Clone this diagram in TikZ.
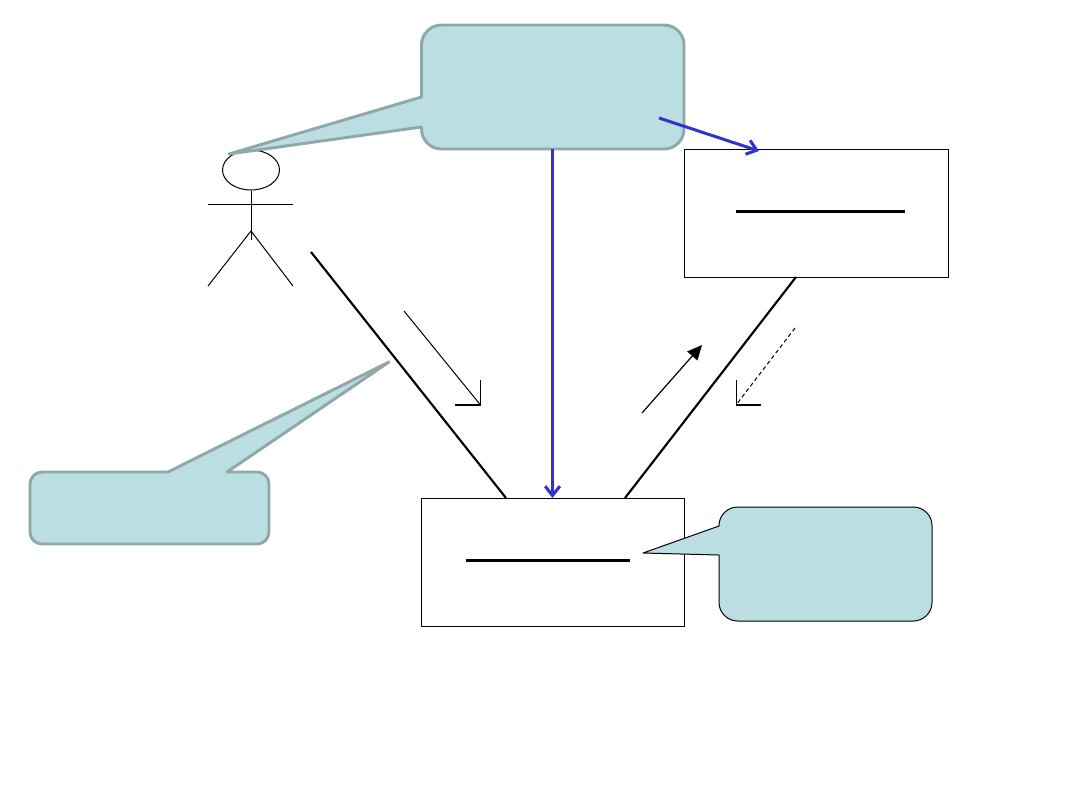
\documentclass[tikz,border=0pt]{standalone}
\usetikzlibrary{arrows.meta, shapes.geometric}
\definecolor{calloutfill}{HTML}{BBDEE2}
\definecolor{calloutline}{HTML}{8FA8AA}
\definecolor{flowblue}{HTML}{3333CC}
\tikzset{
    objbox/.style={draw, rectangle, line width=0.75pt, inner sep=0pt, outer sep=0pt, minimum width=198pt, minimum height=96pt},
    assoc/.style={line width=1.6pt},
    flow/.style={draw=flowblue, line width=2.25pt, -{Straight Barb[length=7pt, width=11pt, line width=2.3pt]}},
    callout/.style={fill=calloutfill, draw=calloutline, line width=2.2pt, line join=round},
    thinline/.style={line width=0.75pt},
    anglehead/.style={line width=1.2pt}
}
\begin{document}
\begin{tikzpicture}[x=0.75pt, y=-0.75pt]
        \useasboundingbox (0, 0) rectangle (1080, 810);

        % boxes
        \node[objbox] (classbox) at (816.3, 213) {};
        \node[objbox, minimum width=197.25pt] (instbox) at (553, 562) {};

        \draw[line width=2.2pt] (736, 211.5) -- (905, 211.5);
        \draw[line width=2.2pt] (466, 560.5) -- (630, 560.5);

        % actor
        \node[draw, ellipse, line width=0.75pt, inner sep=0pt, minimum width=42.75pt, minimum height=30pt] (head) at (251, 170) {};
        \coordinate (hip) at (251, 231);
        \draw[thinline] (head.south) -- (251, 240);
        \draw[thinline] (208, 204) -- (293, 204);
        \draw[thinline] (hip) -- (208, 286);
        \draw[thinline] (hip) -- (293, 286);

        % associations
        \coordinate (actorend) at (311, 252);
        \coordinate (instleft) at (506, 498);
        \coordinate (instright) at (625, 498);
        \coordinate (classfoot) at (796, 277);
        \draw[assoc] (actorend) -- (instleft);
        \draw[assoc] (classfoot) -- (instright);

        % direction marks
        \coordinate (leftcorner) at (480.5, 405);
        \coordinate (rightcorner) at (736, 405);
        \draw[thinline] (404, 311) -- (leftcorner);
        \draw[thinline] (480.5, 380) -- (leftcorner);
        \draw[anglehead] (455, 405) -- (leftcorner);
        \draw[thinline, dash pattern=on 3pt off 2.2pt] (795, 328) -- (rightcorner);
        \draw[thinline] (736, 380) -- (rightcorner);
        \draw[anglehead] (761, 405) -- (rightcorner);
        \draw[line width=0.9pt, -{Triangle[length=11pt, width=10pt]}] (642, 413) -- (702, 345);

        % callouts
        \draw[callout] (421.5, 97) -- (229, 154) -- (421.5, 127) -- (421.5, 129)
            arc[start angle=180, end angle=270, radius=15pt] -- (664, 149)
            arc[start angle=270, end angle=360, radius=15pt] -- (684, 45)
            arc[start angle=0, end angle=90, radius=15pt] -- (441.5, 25)
            arc[start angle=90, end angle=180, radius=15pt] -- cycle;
        \draw[callout] (168, 472) -- (389, 362) -- (227, 472) -- (257, 472)
            arc[start angle=90, end angle=0, radius=9pt] -- (269, 532)
            arc[start angle=0, end angle=-90, radius=9pt] -- (42, 544)
            arc[start angle=270, end angle=180, radius=9pt] -- (30, 484)
            arc[start angle=180, end angle=90, radius=9pt] -- cycle;
        \draw[callout, draw=black, line width=0.75pt] (719, 526) -- (643, 553) -- (719, 555) -- (719, 602.33)
            arc[start angle=180, end angle=270, radius=14pt] -- (913.33, 621)
            arc[start angle=270, end angle=360, radius=14pt] -- (932, 525.67)
            arc[start angle=0, end angle=90, radius=14pt] -- (737.67, 507)
            arc[start angle=90, end angle=180, radius=14pt] -- cycle;

        % flows
        \coordinate (topfoot) at (552.5, 149);
        \coordinate (flowstart) at (659, 118);
        \coordinate (classtop) at (759, 151);
        \coordinate (insttop) at (552.5, 498);
        \draw[flow] (topfoot) -- (insttop);
        \draw[flow] (flowstart) -- (classtop);
    \end{tikzpicture}
\end{document}
